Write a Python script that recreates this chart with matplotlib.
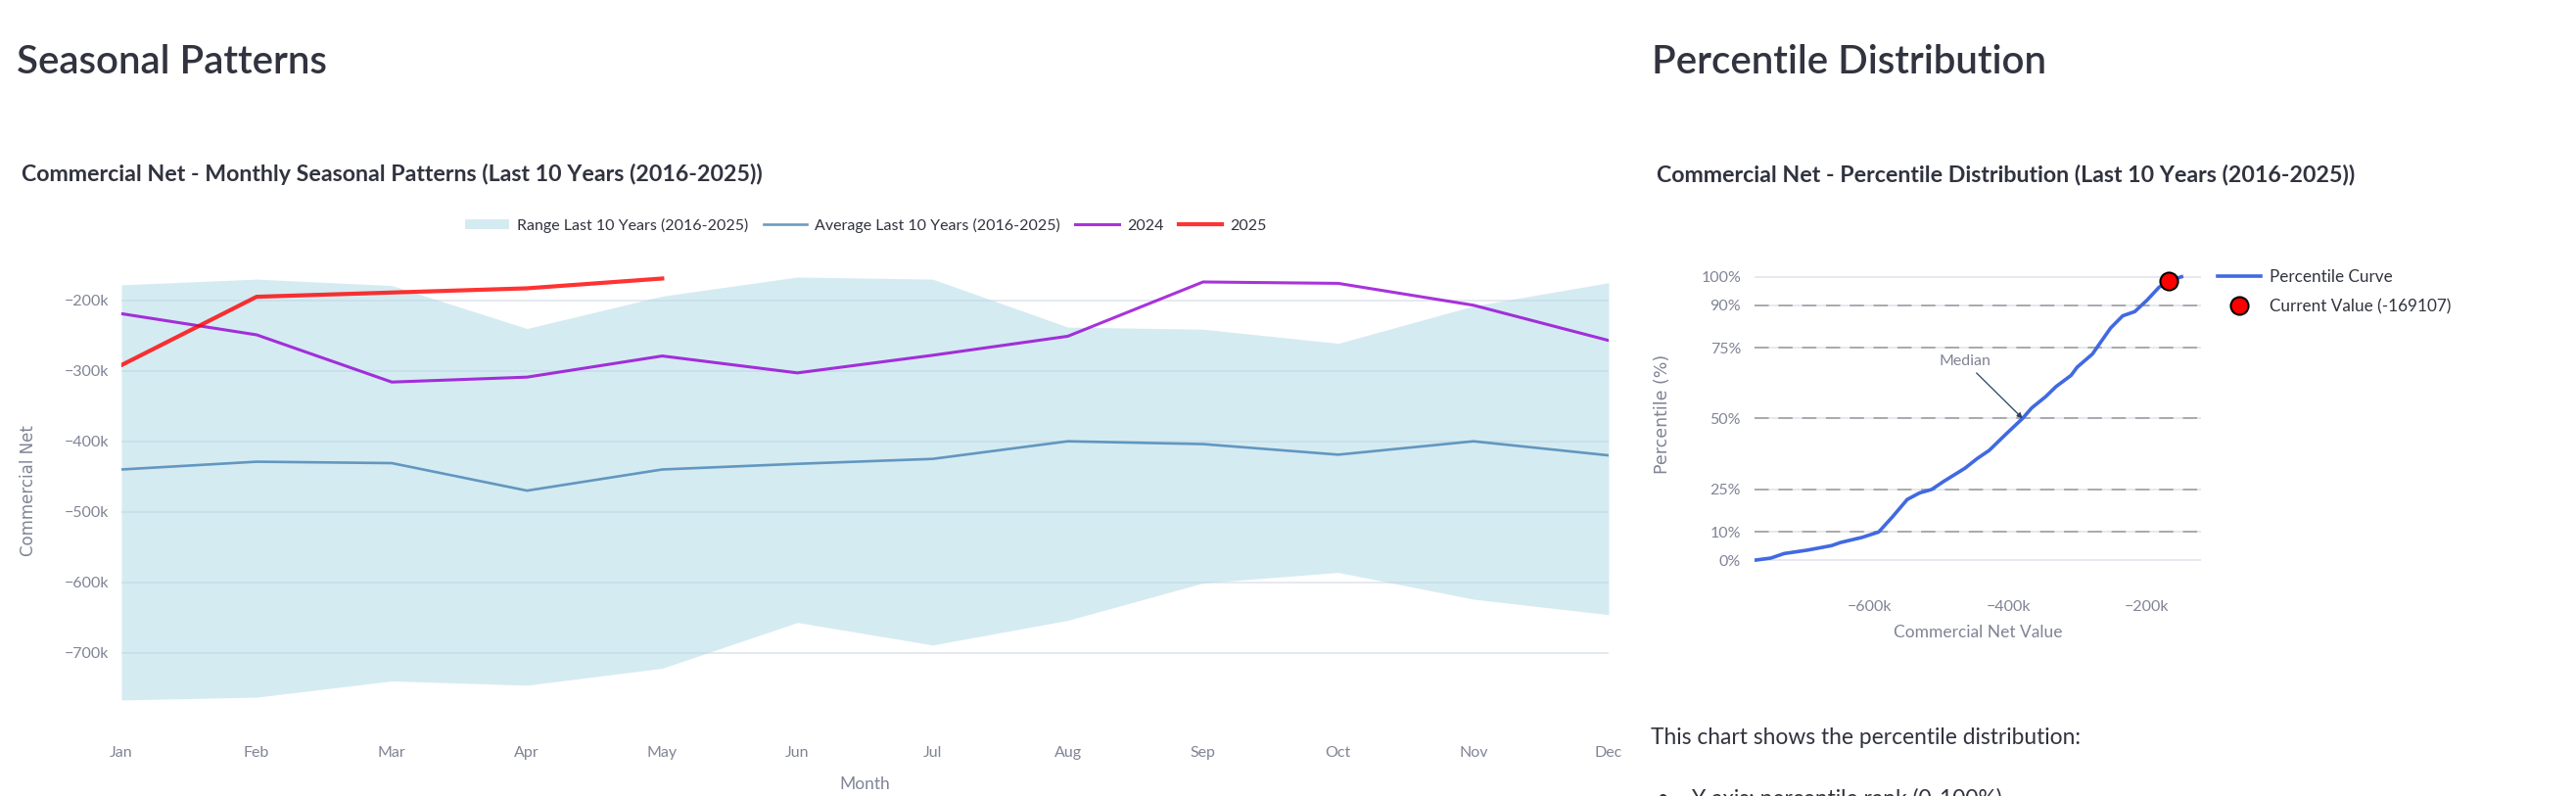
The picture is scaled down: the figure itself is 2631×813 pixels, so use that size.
import matplotlib.pyplot as plt
from matplotlib.lines import Line2D
from matplotlib.patches import Patch

plt.rcParams['font.family'] = ['Lato', 'DejaVu Sans']

# --- seasonal data ---
months = ['Jan', 'Feb', 'Mar', 'Apr', 'May', 'Jun', 'Jul', 'Aug', 'Sep', 'Oct', 'Nov', 'Dec']
range_high = [-178000, -170000, -179000, -240000, -194000, -167000, -170000, -238000, -241000, -261000, -208000, -175000]
range_low = [-767000, -763000, -740000, -746000, -722000, -657000, -689000, -654000, -601000, -586000, -624000, -646000]
avg_10y = [-440000, -429000, -431000, -470000, -440000, -432000, -425000, -400000, -404000, -419000, -400000, -420000]
y2024 = [-219000, -249000, -316000, -309000, -279000, -303000, -278000, -251000, -174000, -176000, -207000, -257000]
y2025 = [-292000, -195000, -189000, -183000, -169107]

yticks = [-700000, -600000, -500000, -400000, -300000, -200000]
ytick_labels = ['\u2212700k', '\u2212600k', '\u2212500k', '\u2212400k', '\u2212300k', '\u2212200k']

# --- percentile data ---
pct_value = [-764500, -742600, -723400, -690000, -655000, -642000, -611000, -587000, -567600, -545700,
             -528000, -510700, -493000, -462600, -445000, -427600, -405700, -379400, -366200, -346000,
             -331300, -309400, -300600, -278700, -265600, -252400, -235000, -217500, -200000, -182500,
             -169000, -150000]
pct_rank = [0, 0.7, 2.3, 3.5, 5.1, 6.2, 8.0, 9.9, 15.1, 21.4, 23.7, 24.9, 27.8, 32.4, 35.8, 38.7,
            43.9, 50, 53.7, 57.7, 61.2, 65.2, 68.1, 72.7, 77.3, 81.9, 86.2, 87.7, 91.7, 96.3, 98.6, 100]
current_value = -169107
current_pct = 98.6
median_value = -379400
ref_levels = [10, 25, 50, 75, 90]
pct_ticks = [0, 10, 25, 50, 75, 90, 100]
pct_tick_labels = ['0%', '10%', '25%', '50%', '75%', '90%', '100%']
xticks2 = [-600000, -400000, -200000]
xtick2_labels = ['\u2212600k', '\u2212400k', '\u2212200k']

W, H = 2631, 813
fig = plt.figure(figsize=(W / 100, H / 100), dpi=100)

dark = '#31333F'
gray = '#808495'
grid = '#E3E7EE'

# headings
fig.text(16.7 / W, 1 - 75 / H, 'Seasonal Patterns', fontsize=29, fontweight='semibold', color=dark, va='baseline')
fig.text(1687 / W, 1 - 75 / H, 'Percentile Distribution', fontsize=29, fontweight='semibold', color=dark, va='baseline')
fig.text(21.7 / W, 1 - 185 / H, 'Commercial Net - Monthly Seasonal Patterns (Last 10 Years (2016-2025))',
         fontsize=16.7, fontweight='bold', color=dark, va='baseline')
fig.text(1692 / W, 1 - 185 / H, 'Commercial Net - Percentile Distribution (Last 10 Years (2016-2025))',
         fontsize=16.7, fontweight='bold', color=dark, va='baseline')

# ---------------- left: seasonal chart ----------------
ax = fig.add_axes([124 / W, 1 - 738.7 / H, (1643 - 124) / W, (738.7 - 263.5) / H])
x = list(range(len(months)))
ax.fill_between(x, range_low, range_high, color='lightblue', alpha=0.5, lw=0, zorder=1)
ax.plot(x, avg_10y, color='steelblue', alpha=0.8, lw=1.9, zorder=2)
ax.plot(x, y2024, color='darkviolet', alpha=0.8, lw=2.2, zorder=3)
ax.plot(x[:len(y2025)], y2025, color='red', alpha=0.8, lw=3.0, zorder=4)
ax.set_xlim(0, 11)
ax.set_ylim(-800000, -140000)
ax.set_xticks(x)
ax.set_xticklabels(months)
ax.set_yticks(yticks)
ax.set_yticklabels(ytick_labels)
ax.tick_params(length=0, labelsize=11.5, labelcolor=gray)
ax.tick_params(axis='x', pad=17)
ax.tick_params(axis='y', pad=9.5)
ax.grid(axis='y', color=grid, lw=1.3)
ax.set_axisbelow(True)
for s in ax.spines.values():
    s.set_visible(False)
ax.set_xlabel('Month', fontsize=12.5, color=gray)
ax.xaxis.set_label_coords(0.5, -0.115)
ax.set_ylabel('Commercial Net', fontsize=12, color=gray, family='DejaVu Sans')
ax.yaxis.set_label_coords(-0.0566, 0.5)

handles = [Patch(facecolor='lightblue', alpha=0.5, lw=0),
           Line2D([], [], color='steelblue', alpha=0.8, lw=1.9),
           Line2D([], [], color='darkviolet', alpha=0.8, lw=2.2),
           Line2D([], [], color='red', alpha=0.8, lw=3.0)]
labels = ['Range Last 10 Years (2016-2025)', 'Average Last 10 Years (2016-2025)', '2024', '2025']
fig.legend(handles, labels, loc='center', bbox_to_anchor=(884.5 / W, 1 - 230 / H), ncol=4,
           frameon=False, fontsize=11.5, handlelength=2.8, handleheight=0.56, handletextpad=0.5,
           columnspacing=0.95, labelcolor=dark)

# ---------------- right: percentile chart ----------------
ax2 = fig.add_axes([1792 / W, 1 - 589.4 / H, 456 / W, (589.4 - 265.3) / H])
ax2.plot(pct_value, pct_rank, color='royalblue', lw=2.6, zorder=3, label='Percentile Curve')
for lvl in ref_levels:
    ax2.axhline(lvl, color='gray', alpha=0.6, lw=1.4, dashes=(7.5, 5), zorder=2)
ax2.plot([current_value], [current_pct], 'o', color='red', mec='black', mew=1.5, ms=13, zorder=5,
         label='Current Value (-169107)')
ax2.annotate('Median', xy=(median_value, 50), xytext=(-462600, 70.1), fontsize=11.5, color=gray,
             ha='center', va='center',
             arrowprops=dict(arrowstyle='-|>', color='#2a3f5f', lw=0.9, mutation_scale=8, shrinkA=2, shrinkB=0))
ax2.set_xlim(-766000, -122000)
ax2.set_ylim(-6, 106)
ax2.set_yticks(pct_ticks)
ax2.set_yticklabels(pct_tick_labels)
ax2.set_xticks(xticks2)
ax2.set_xticklabels(xtick2_labels)
ax2.tick_params(length=0, labelsize=11.5, labelcolor=gray)
ax2.tick_params(axis='x', pad=17)
ax2.tick_params(axis='y', pad=10)
ax2.grid(axis='y', color=grid, lw=1.3)
ax2.set_axisbelow(True)
for s in ax2.spines.values():
    s.set_visible(False)
ax2.set_xlabel('Commercial Net Value', fontsize=12.5, color=gray)
ax2.xaxis.set_label_coords(0.5, -0.15)
ax2.set_ylabel('Percentile (%)', fontsize=12.5, color=gray, family='DejaVu Sans')
ax2.yaxis.set_label_coords(-0.186, 0.5125)
fig.legend(*ax2.get_legend_handles_labels(), loc='upper left', bbox_to_anchor=(2258 / W, 1 - 268 / H),
           frameon=False, fontsize=12.3, handlelength=2.6, handletextpad=0.5, labelspacing=0.85,
           labelcolor=dark, borderaxespad=0)

# text under the percentile chart
fig.text(1686 / W, 1 - 753 / H, 'This chart shows the percentile distribution:', fontsize=16.4, color=dark, va='center')
fig.text(1692 / W, 1 - 816 / H, '\u2022', fontsize=16.4, color=dark, va='center')
fig.text(1728 / W, 1 - 816 / H, 'Y axis: percentile rank (0-100%)', fontsize=16.4, color=dark, va='center')

fig.savefig('out.png', dpi=100)
